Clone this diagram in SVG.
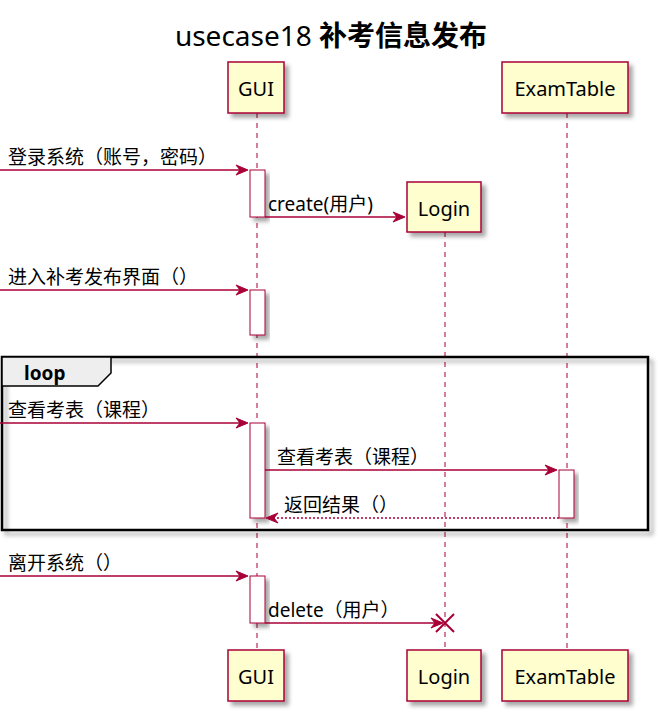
<svg xmlns="http://www.w3.org/2000/svg" width="666" height="715" viewBox="0 0 666 715">
<style>
text{font-family:"Noto Sans","Noto Sans CJK SC",sans-serif;fill:#000}
.part{fill:#FEFECE;stroke:#A80036;stroke-width:1.5}
.ptxt{font-size:20px;text-anchor:middle}
.life{stroke:#A80036;stroke-width:1;stroke-dasharray:5,5;fill:none}
.act{fill:#FFFFFF;stroke:#A80036;stroke-width:1}
.msg{stroke:#A80036;stroke-width:1.5;fill:none}
.ret{stroke:#A80036;stroke-width:1.5;fill:none;stroke-dasharray:2,2}
.head{fill:#A80036;stroke:#A80036;stroke-width:1}
.mtxt{font-size:19px}
</style>
<defs>
<filter id="sh" x="-20%" y="-20%" width="150%" height="150%">
<feDropShadow dx="4" dy="4" stdDeviation="2" flood-color="#000" flood-opacity="0.35"/>
</filter>
</defs>
<rect width="666" height="715" fill="#FFFFFF"/>
<text x="331" y="46" text-anchor="middle" style="font-size:28px">usecase18 <tspan font-weight="bold">补考信息发布</tspan></text>

<g id="lifelines">
<line class="life" x1="257" y1="113" x2="257" y2="650"/>
<line class="life" x1="445" y1="232" x2="445" y2="650"/>
<line class="life" x1="567" y1="113" x2="567" y2="650"/>
</g>

<g id="loop-frame">
<rect x="2" y="357" width="646" height="173" fill="none" stroke="#000" stroke-width="2.5" filter="url(#sh)"/>
<polygon points="2,357 111,357 111,373 98,386 2,386" fill="#EEEEEE" stroke="#000" stroke-width="1.5"/>
<text x="24" y="380" style="font-size:19px;font-weight:bold">loop</text>
</g>

<g id="GUI">
<rect class="part" x="228" y="62" width="56" height="51" filter="url(#sh)"/>
<text class="ptxt" x="256" y="96">GUI</text>
<rect class="part" x="228" y="650" width="56" height="51" filter="url(#sh)"/>
<text class="ptxt" x="256" y="684">GUI</text>
</g>

<g id="Login">
<rect class="part" x="407" y="182" width="74" height="50" filter="url(#sh)"/>
<text class="ptxt" x="444" y="216">Login</text>
<rect class="part" x="407" y="650" width="74" height="51" filter="url(#sh)"/>
<text class="ptxt" x="444" y="684">Login</text>
</g>

<g id="ExamTable">
<rect class="part" x="502" y="62" width="126" height="51" filter="url(#sh)"/>
<text class="ptxt" x="565" y="96">ExamTable</text>
<rect class="part" x="502" y="650" width="126" height="51" filter="url(#sh)"/>
<text class="ptxt" x="565" y="684">ExamTable</text>
</g>

<g id="activations">
<rect class="act" x="250" y="170" width="15" height="47" filter="url(#sh)"/>
<rect class="act" x="250" y="290" width="15" height="45" filter="url(#sh)"/>
<rect class="act" x="250" y="423" width="15" height="95" filter="url(#sh)"/>
<rect class="act" x="559" y="470" width="15" height="48" filter="url(#sh)"/>
<rect class="act" x="250" y="576" width="15" height="47" filter="url(#sh)"/>
</g>

<g id="connectors">
<line class="msg" x1="0" y1="170" x2="246" y2="170"/>
<polygon class="head" points="248,170 236,165 240,170 236,175"/>
<text class="mtxt" x="8" y="164">登录系统（账号，密码）</text>

<line class="msg" x1="265" y1="217" x2="403" y2="217"/>
<polygon class="head" points="405,217 393,212 397,217 393,222"/>
<text class="mtxt" x="268" y="211">create(用户)</text>

<line class="msg" x1="0" y1="290" x2="246" y2="290"/>
<polygon class="head" points="248,290 236,285 240,290 236,295"/>
<text class="mtxt" x="8" y="284">进入补考发布界面（）</text>

<line class="msg" x1="0" y1="423" x2="246" y2="423"/>
<polygon class="head" points="248,423 236,418 240,423 236,428"/>
<text class="mtxt" x="8" y="417">查看考表（课程）</text>

<line class="msg" x1="265" y1="470" x2="555" y2="470"/>
<polygon class="head" points="557,470 545,465 549,470 545,475"/>
<text class="mtxt" x="277" y="464">查看考表（课程）</text>

<line class="ret" x1="559" y1="518" x2="270" y2="518"/>
<polygon class="head" points="266,518 278,513 274,518 278,523"/>
<text class="mtxt" x="284" y="512">返回结果（）</text>

<line class="msg" x1="0" y1="576" x2="246" y2="576"/>
<polygon class="head" points="248,576 236,571 240,576 236,581"/>
<text class="mtxt" x="8" y="570">离开系统（）</text>

<line class="msg" x1="265" y1="623" x2="441" y2="623"/>
<polygon class="head" points="443,623 431,618 435,623 431,628"/>
<text class="mtxt" x="268" y="617">delete（用户）</text>
<path d="M436,614 L454,632 M436,632 L454,614" stroke="#A80036" stroke-width="2" fill="none"/>
</g>
</svg>
